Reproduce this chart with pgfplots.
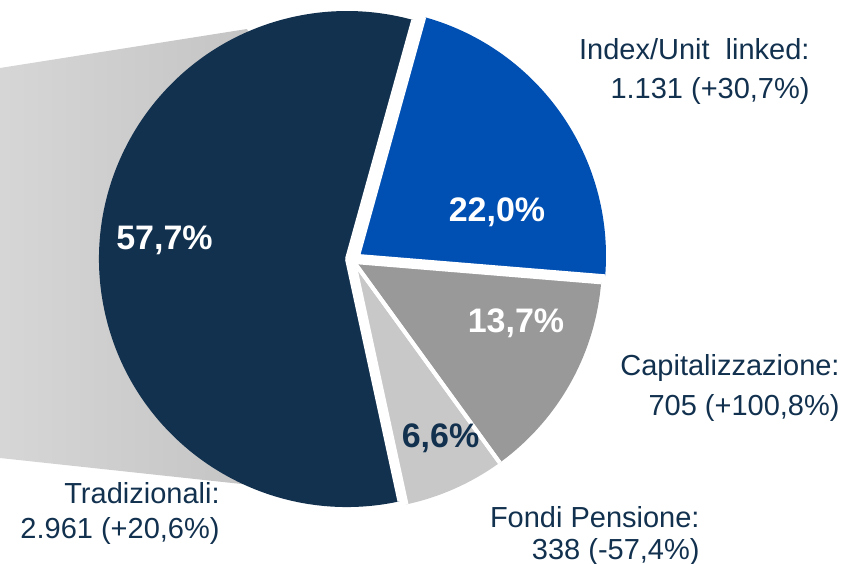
\documentclass[border=0pt]{standalone}
\usepackage{pgfplots}
\pgfplotsset{compat=1.18}
\usepackage{pgfplotstable}
\usepackage{fontspec}
\setmainfont{Liberation Sans}

\definecolor{navy}{HTML}{12314F}
\definecolor{slice0}{HTML}{0050B4}
\definecolor{slice1}{HTML}{999999}
\definecolor{slice2}{HTML}{C8C8C8}
\definecolor{slice3}{HTML}{12314F}

% share in %, slice centre (pixels, y up) -- clockwise from the top
\pgfplotstableread{
share cx  cy
22.0  358 307
13.7  354 301
6.6   354 301
57.7  347 304
}\piedata

\newcommand\lbl{\fontsize{14.5}{16}\selectfont}
\newcommand\pct{\fontsize{17}{19}\selectfont\bfseries}

\begin{document}
\begin{tikzpicture}
% angles from the shares
\xdef\cum{74.5}
\foreach \i in {0,1,2,3}{%
  \pgfplotstablegetelem{\i}{share}\of\piedata
  \pgfmathsetmacro\e{\cum-3.6*\pgfplotsretval}%
  \expandafter\xdef\csname sa\i\endcsname{\cum}%
  \expandafter\xdef\csname ea\i\endcsname{\e}%
  \xdef\cum{\e}%
  \pgfplotstablegetelem{\i}{cx}\of\piedata
  \expandafter\xdef\csname cx\i\endcsname{\pgfplotsretval}%
  \pgfplotstablegetelem{\i}{cy}\of\piedata
  \expandafter\xdef\csname cy\i\endcsname{\pgfplotsretval}%
}
\begin{axis}[
    x=0.5pt, y=0.5pt,
    xmin=0, xmax=846, ymin=0, ymax=563,
    hide axis, clip=false,
    at={(0,0)}, anchor=south west,
  ]
  % grey band behind the big slice
  \addplot[draw=none, left color=black!16, right color=black!27]
    coordinates {(0,495) (247,534) (347,304) (390,63) (0,105)} -- cycle;

  \pgfplotsinvokeforeach{0,1,2,3}{
    \fill[slice#1] (axis cs:\csname cx#1\endcsname,\csname cy#1\endcsname)
      -- ++(\csname sa#1\endcsname:124pt)
      arc[start angle=\csname sa#1\endcsname, end angle=\csname ea#1\endcsname, radius=124pt]
      -- cycle;
  }
  \pgfplotsinvokeforeach{0,1,2,3}{
    \draw[white, line width=2pt] (axis cs:\csname cx#1\endcsname,\csname cy#1\endcsname)
      -- ++(\csname sa#1\endcsname:124pt);
    \draw[white, line width=2pt] (axis cs:\csname cx#1\endcsname,\csname cy#1\endcsname)
      -- ++(\csname ea#1\endcsname:124pt);
  }

  % percentages
  \node[anchor=base, white, font=\pct] at (axis cs:164.5,314) {57,7\%};
  \node[anchor=base, white, font=\pct] at (axis cs:497,341) {22,0\%};
  \node[anchor=base, white, font=\pct] at (axis cs:516,231) {13,7\%};
  \node[anchor=base, navy, font=\pct] at (axis cs:440.5,116) {6,6\%};

  % labels
  \node[anchor=base east, navy, font=\lbl, inner sep=0pt] at (axis cs:810,503) {Index/Unit\ \ linked:};
  \node[anchor=base east, navy, font=\lbl, inner sep=0pt] at (axis cs:810,464) {1.131 (+30,7\%)};
  \node[anchor=base east, navy, font=\lbl, inner sep=0pt] at (axis cs:840,188) {Capitalizzazione:};
  \node[anchor=base east, navy, font=\lbl, inner sep=0pt] at (axis cs:840,148) {705 (+100,8\%)};
  \node[anchor=base east, navy, font=\lbl, inner sep=0pt] at (axis cs:700,36) {Fondi Pensione:};
  \node[anchor=base east, navy, font=\lbl, inner sep=0pt] at (axis cs:700,4) {338 (-57,4\%)};
  \node[anchor=base east, navy, font=\lbl, inner sep=0pt] at (axis cs:220,60) {Tradizionali:};
  \node[anchor=base east, navy, font=\lbl, inner sep=0pt] at (axis cs:220,25) {2.961 (+20,6\%)};
\end{axis}
\pgfresetboundingbox
\path[use as bounding box] (0,0) rectangle (423pt,281.5pt);
\end{tikzpicture}
\end{document}
